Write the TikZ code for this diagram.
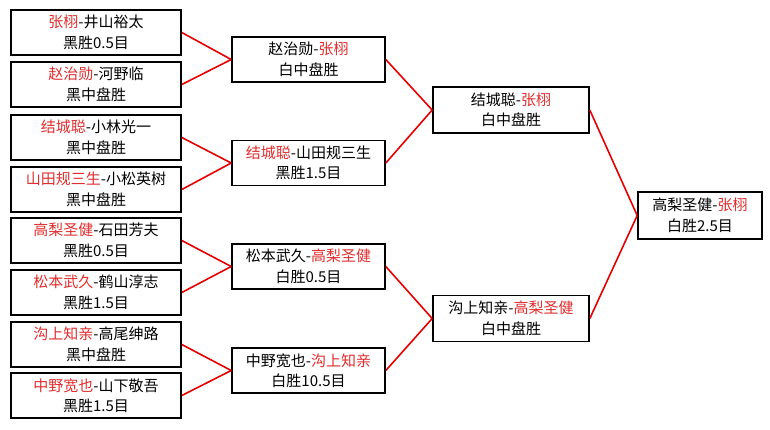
\documentclass[tikz,border=0pt]{standalone}
\usepackage{fontspec}
\newfontfamily\cjk{Noto Sans CJK SC}
\definecolor{winred}{RGB}{225,45,45}
\definecolor{linered}{RGB}{230,0,0}
\newcommand{\wn}[1]{\textcolor{winred}{#1}}
\begin{document}
\begin{tikzpicture}[x=1pt,y=-1pt,
  box/.style={draw=black,line width=1.6pt,fill=white,align=center,inner sep=0pt,
    font=\cjk\fontsize{15}{20.5}\selectfont},
  lbox/.style={box,minimum width=170pt,minimum height=45pt},
  rbox/.style={box,minimum width=153pt,minimum height=45pt},
  sbox/.style={box,minimum width=156pt,minimum height=46pt},
  fbox/.style={box,minimum width=124pt,minimum height=47pt},
  link/.style={draw=linered,line width=1.6pt}]
\useasboundingbox[fill=white] (0,0) rectangle (770,429);
% first round
\node[lbox] (l1) at (96,32.5) {\wn{张栩}-井山裕太\\黑胜0.5目};
\node[lbox] (l2) at (96,84.5) {\wn{赵治勋}-河野临\\黑中盘胜};
\node[lbox] (l3) at (96,137.5) {\wn{结城聪}-小林光一\\黑中盘胜};
\node[lbox] (l4) at (96,189.5) {\wn{山田规三生}-小松英树\\黑中盘胜};
\node[lbox] (l5) at (96,240.5) {\wn{高梨圣健}-石田芳夫\\黑胜0.5目};
\node[lbox] (l6) at (96,292.5) {\wn{松本武久}-鹤山淳志\\黑胜1.5目};
\node[lbox] (l7) at (96,344.5) {\wn{沟上知亲}-高尾绅路\\黑中盘胜};
\node[lbox] (l8) at (96,395.5) {\wn{中野宽也}-山下敬吾\\黑胜1.5目};
% second round
\node[rbox] (r1) at (308.5,59.5) {赵治勋-\wn{张栩}\\白中盘胜};
\node[rbox] (r2) at (308.5,163) {\wn{结城聪}-山田规三生\\黑胜1.5目};
\node[rbox] (r3) at (308.5,266.5) {松本武久-\wn{高梨圣健}\\白胜0.5目};
\node[rbox] (r4) at (308.5,370.5) {中野宽也-\wn{沟上知亲}\\白胜10.5目};
% semifinals
\node[sbox] (s1) at (511,110) {结城聪-\wn{张栩}\\白中盘胜};
\node[sbox] (s2) at (511,318.5) {沟上知亲-\wn{高梨圣健}\\白中盘胜};
% final
\node[fbox] (f) at (700,215.5) {高梨圣健-\wn{张栩}\\白胜2.5目};
% connectors
\draw[link] (l1.east) -- (r1.west);
\draw[link] (l2.east) -- (r1.west);
\draw[link] (l3.east) -- (r2.west);
\draw[link] (l4.east) -- (r2.west);
\draw[link] (l5.east) -- (r3.west);
\draw[link] (l6.east) -- (r3.west);
\draw[link] (l7.east) -- (r4.west);
\draw[link] (l8.east) -- (r4.west);
\draw[link] (r1.east) -- (s1.west);
\draw[link] (r2.east) -- (s1.west);
\draw[link] (r3.east) -- (s2.west);
\draw[link] (r4.east) -- (s2.west);
\draw[link] (s1.east) -- (f.west);
\draw[link] (s2.east) -- (f.west);
\end{tikzpicture}
\end{document}
